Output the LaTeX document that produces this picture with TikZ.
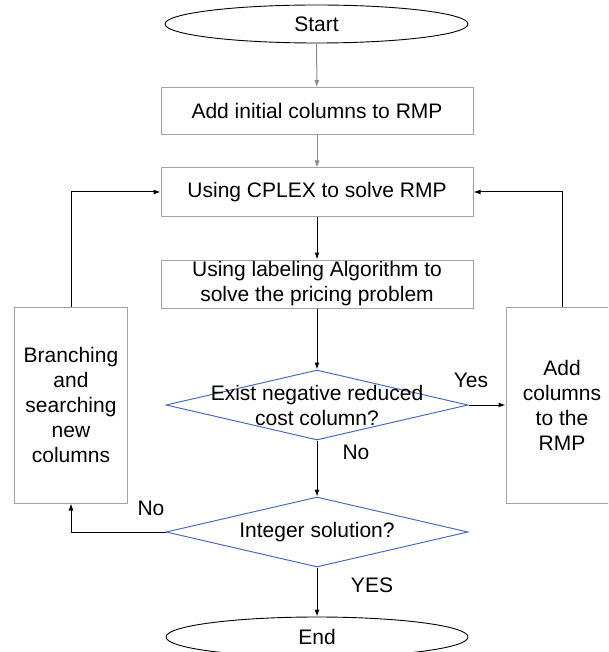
\documentclass[tikz,border=0pt]{standalone}
\usepackage{fontspec}
\setmainfont{Liberation Sans}
\usetikzlibrary{shapes.geometric,arrows.meta}
\definecolor{boxgray}{HTML}{A3A3A3}
\definecolor{arrgray}{HTML}{8A8A8A}
\definecolor{dblue}{HTML}{4A6EBE}
\begin{document}
\begin{tikzpicture}[x=1pt,y=-1pt,
  txt/.style={font=\fontsize{21}{25}\selectfont, align=center, text=black},
  box/.style={draw=boxgray, line width=1pt, inner sep=0pt, txt},
  oval/.style={ellipse, draw=black, line width=0.9pt, inner sep=0pt, txt},
  dia/.style={diamond, draw=dblue, line width=1pt, inner sep=0pt},
  arr/.style={line width=1pt, -{Latex[length=7pt,width=5pt]}},
  garr/.style={arr, draw=arrgray, -{Latex[length=7pt,width=5pt,color=arrgray]}},
  lbl/.style={txt, inner sep=0pt}
]
\useasboundingbox (0,0) rectangle (608,652);
\clip (0,0) rectangle (608,652);

\node[oval, minimum width=303pt, minimum height=38pt] (start) at (316.5,24) {Start};
\node[box, minimum width=312pt, minimum height=47pt] (add) at (317,111) {Add initial columns to RMP};
\node[box, minimum width=312pt, minimum height=48pt] (cplex) at (317,192) {Using CPLEX to solve RMP};
\node[box, minimum width=312pt, minimum height=48pt] (lab) at (317,284) {Using labeling Algorithm to\\solve the pricing problem};
\node[box, minimum width=113pt, minimum height=196pt] (left) at (71,405) {Branching\\and\\searching\\new\\columns};
\node[box, minimum width=112pt, minimum height=196pt] (right) at (562,405) {Add\\columns\\to the\\RMP};
\node[dia, minimum width=302pt, minimum height=70pt] (d1) at (317,405) {};
\node[lbl] at (d1.center) {Exist negative reduced\\cost column?};
\node[dia, minimum width=302pt, minimum height=70pt] (d2) at (317,532) {};
\node[lbl] at (d2.center) {Integer solution?};
\node[oval, minimum width=302pt, minimum height=40pt] (end) at (317,637) {End};

\draw[garr] (start) -- (add);
\draw[garr] (add) -- (cplex);
\draw[arr] (cplex) -- (lab);
\draw[arr] (lab) -- (d1.north);
\draw[arr] (d1.east) -- (right.west);
\draw[arr] (d1.south) -- (d2.north);
\draw[arr] (d2.south) -- (end.north);
\draw[arr] (d2.west) -| (left.south);
\draw[arr] (left.north) |- (cplex.west);
\draw[arr] (right.north) |- (cplex.east);

\node[lbl] (yes1) at (471,380) {Yes};
\node[lbl] (no1) at (356,452) {No};
\node[lbl] (no2) at (151,508) {No};
\node[lbl] (yes2) at (372,585) {YES};
\end{tikzpicture}
\end{document}
